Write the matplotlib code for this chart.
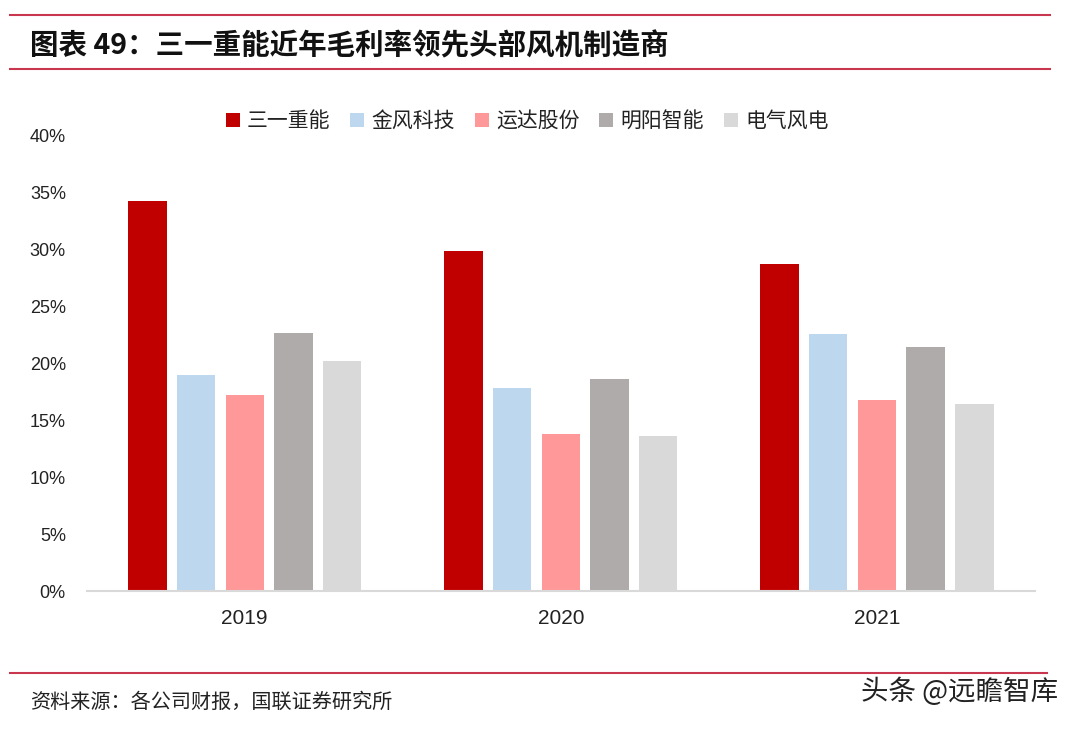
import matplotlib
matplotlib.use("Agg")
import matplotlib.pyplot as plt
import numpy as np
from matplotlib.patches import Patch
from matplotlib.lines import Line2D

plt.rcParams['font.family'] = ['Noto Sans CJK SC', 'DejaVu Sans']

years = ["2019", "2020", "2021"]
companies = ["三一重能", "金风科技", "运达股份", "明阳智能", "电气风电"]
sany = [34.3, 29.9, 28.7]
goldwind = [19.0, 17.8, 22.6]
windey = [17.2, 13.8, 16.8]
mingyang = [22.7, 18.6, 21.4]
shanghai_electric = [20.2, 13.6, 16.4]
yticks = [0, 5, 10, 15, 20, 25, 30, 35, 40]
title = "图表 49：三一重能近年毛利率领先头部风机制造商"
source = "资料来源：各公司财报，国联证券研究所"
watermark = "头条 @远瞻智库"

series = [sany, goldwind, windey, mingyang, shanghai_electric]
colors = ["#C00000", "#BDD7EE", "#FF9999", "#AFABAB", "#D9D9D9"]

fig = plt.figure(figsize=(10.8, 7.29), dpi=100)
ax = fig.add_axes([86.7/1080, 1-591/729, (1035-86.7)/1080, (591-135.7)/729])

x = np.arange(len(years))
pitch = 0.154
width = 0.1215
for i, (vals, c, name) in enumerate(zip(series, colors, companies)):
    ax.bar(x + (i-2)*pitch, vals, width=width, color=c, label=name, zorder=2)

ax.set_xlim(-0.5, 2.5)
ax.set_ylim(0, 40)
ax.set_yticks(yticks)
ax.set_yticklabels([f"{v}%" for v in yticks], family=['Liberation Sans', 'DejaVu Sans'], fontsize=13, color="#222222")
ax.set_xticks(x)
ax.set_xticklabels(years, family=['Liberation Sans', 'DejaVu Sans'], fontsize=15, color="#222222")
ax.tick_params(axis='both', length=0)
ax.tick_params(axis='y', pad=15)
ax.tick_params(axis='x', pad=13)
for s in ["top", "right", "left"]:
    ax.spines[s].set_visible(False)
ax.spines["bottom"].set_color("#D9D9D9")
ax.spines["bottom"].set_linewidth(1.5)

handles = [Patch(facecolor=c, edgecolor='none') for c in colors]
fig.legend(handles, companies, loc='center', bbox_to_anchor=(527/1080, 1-121/729),
           ncol=5, frameon=False, prop={'family': ['Noto Sans CJK SC'], 'size': 15},
           handlelength=0.67, handleheight=0.67, handletextpad=0.35, columnspacing=0.95,
           labelcolor="#222222")

line_color = "#C8374F"
fig.add_artist(Line2D([10/1080, 1050/1080], [1-15/729, 1-15/729], color=line_color, lw=1.5))
fig.add_artist(Line2D([10/1080, 1050/1080], [1-69/729, 1-69/729], color=line_color, lw=1.5))
fig.add_artist(Line2D([10/1080, 1047/1080], [1-672.5/729, 1-672.5/729], color=line_color, lw=1.5))

fig.text(30/1080, 1-46/729, title, ha='left', va='center', fontsize=20.5, fontweight='bold', color="#111111")
fig.text(30/1080, 1-702/729, source, ha='left', va='center', fontsize=14.5, color="#222222")
fig.text(1058/1080, 1-692/729, watermark, ha='right', va='center', fontsize=19.8, color="#222222")

fig.savefig("out.png", dpi=100)
